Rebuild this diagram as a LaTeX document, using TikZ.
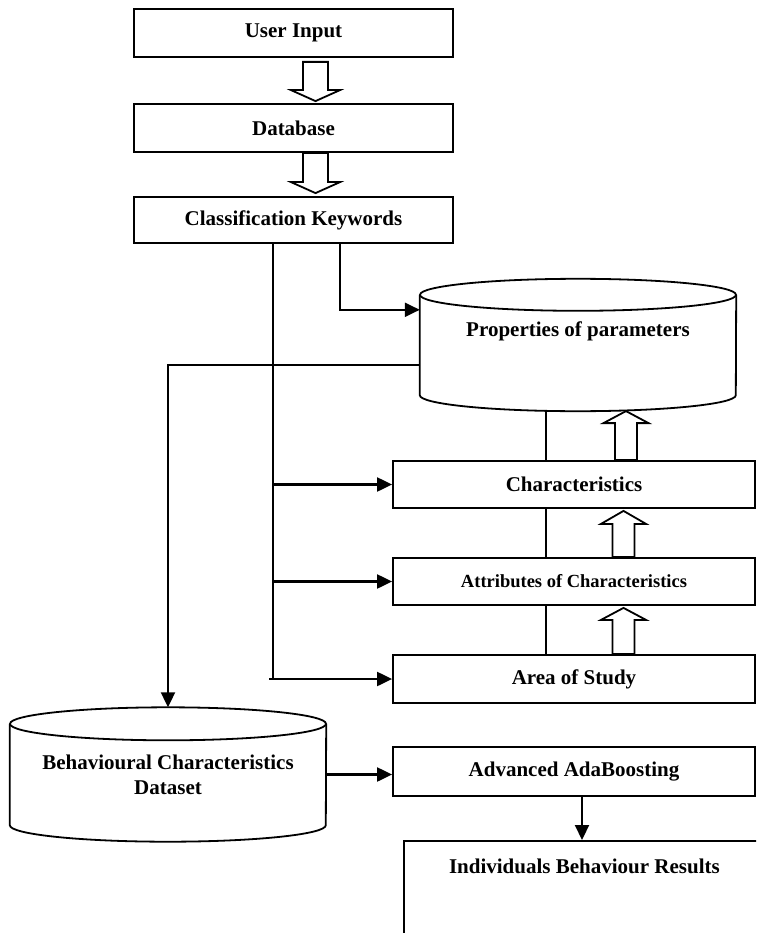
\documentclass[tikz,border=0pt]{standalone}
\usepackage{fontspec}
\setmainfont{Liberation Serif}
\usetikzlibrary{arrows.meta,calc}
\newcommand{\blockarrow}[5]{%
  \draw[hollow] ($(#1)+(-#3,0)$) -- ($(#2)+(-#3,#5)$) -- ($(#2)+(-#4,#5)$) -- (#2)
    -- ($(#2)+(#4,#5)$) -- ($(#2)+(#3,#5)$) -- ($(#1)+(#3,0)$) -- cycle;}
\newcommand{\cylout}[3]{%
  \draw[cyl] (#1.north) ellipse [x radius=#2, y radius=#3];
  \draw[cyl] (#1.north west) -- (#1.south west)
    arc[start angle=180, end angle=360, x radius=#2, y radius=#3] -- (#1.north east);}
\begin{document}
\begin{tikzpicture}[x=1pt,y=1pt,
  box/.style={draw, line width=1.8pt, fill=white, inner sep=0pt,
    minimum height=48pt, font=\fontsize{21}{25}\selectfont\bfseries},
  topbox/.style={box, minimum width=319pt},
  rbox/.style={box, minimum width=362pt},
  cylbody/.style={inner sep=0pt, minimum width=316pt, minimum height=100pt,
    align=center, font=\fontsize{21}{25}\selectfont\bfseries},
  lbl/.style={inner sep=0pt, font=\fontsize{21}{25}\selectfont\bfseries},
  cyl/.style={line width=1.8pt},
  hollow/.style={line width=1.8pt, fill=white, line join=miter},
  conn/.style={line width=2.1pt, -{Triangle[length=15pt,width=14pt]}},
  thinline/.style={line width=1.1pt}
]
\useasboundingbox (0,0) rectangle (756,-933);
\clip (0,0) rectangle (756,-933);

% top boxes
\node[topbox] (user) at (293.5,-33) {User Input};
\node[topbox] (db) at (293.5,-128) {Database};
\node[topbox, minimum height=46pt] (cls) at (293.5,-220) {Classification Keywords};

% right boxes
\node[rbox, minimum height=47pt] (char) at (574,-484.5) {Characteristics};
\node[rbox, minimum height=47pt, font=\fontsize{18.5}{22}\selectfont\bfseries] (attr) at (574,-581.5) {Attributes of Characteristics};
\node[rbox] (area) at (574,-679) {Area of Study};
\node[rbox, minimum height=49pt] (ada) at (574,-771.5) {Advanced AdaBoosting};
\node[box, anchor=north west, minimum width=367pt, minimum height=130pt,
  label={[lbl, anchor=north, yshift=-19pt, xshift=-3pt]north:Individuals Behaviour Results}] (res) at (403,-840) {};

% cylinders
\node[cylbody, minimum height=100pt, label={[lbl, yshift=14pt]center:Properties of parameters}] (props) at (578,-345) {};
\cylout{props}{158}{16}
\node[cylbody, minimum height=101pt] (beh) at (168,-774.5) {Behavioural Characteristics\\Dataset};
\cylout{beh}{158}{16.5}

% hollow arrows down
\coordinate (d1a) at ($(user.south)+(22,-4)$);
\coordinate (d1b) at ($(db.north)+(22,2)$);
\blockarrow{d1a}{d1b}{12.5}{24.5}{11}
\coordinate (d2a) at ($(db.south)+(22,0)$);
\coordinate (d2b) at ($(cls.north)+(22,3)$);
\blockarrow{d2a}{d2b}{12.5}{24.5}{11}

% hollow arrows up
\coordinate (u1a) at ($(char.north)+(52,0)$);
\coordinate (u1b) at ($(char.north)+(52,49)$);
\blockarrow{u1a}{u1b}{11}{22.5}{-12}
\coordinate (u2a) at ($(attr.north)+(49.5,0)$);
\coordinate (u2b) at ($(char.south)+(49.5,-2)$);
\blockarrow{u2a}{u2b}{11}{22.5}{-13}
\coordinate (u3a) at ($(area.north)+(49.5,0)$);
\coordinate (u3b) at ($(attr.south)+(49.5,-2)$);
\blockarrow{u3a}{u3b}{11}{22.5}{-12}

% thin vertical line through right column
\coordinate (pbot) at ($(char.north)+(-28,50.3)$);
\draw[thinline] (pbot) -- ($(char.north)+(-28,0)$);
\draw[thinline] ($(char.south)+(-28,0)$) -- ($(attr.north)+(-28,0)$);
\draw[thinline] ($(attr.south)+(-28,0)$) -- ($(area.north)+(-28,0)$);

% classification -> properties
\coordinate (clsr) at ($(cls.south)+(46.5,0)$);
\draw[conn] (clsr) |- ($(props.north west)+(0,-15)$);

% classification trunk
\coordinate (trunk) at ($(cls.south)+(-20.5,0)$);
\draw[thinline] (trunk) -- (trunk |- area.west);
\draw[conn] ($(trunk |- char.west)+(-1,0)$) -- (char.west);
\draw[conn] ($(trunk |- attr.west)+(-1,0)$) -- (attr.west);
\draw[conn] ($(trunk |- area.west)+(-4,0)$) -- (area.west);

% properties -> behavioural dataset
\draw[conn] ($(props.west)+(0,-20)$) -| ($(beh.north)+(0,16.5)$);

% behavioural -> adaboost
\draw[conn] (beh.east) -- (beh.east -| ada.west);

% adaboost -> results
\coordinate (adaout) at ($(ada.south)+(8,0)$);
\draw[conn] (adaout) -- (adaout |- res.north);
\end{tikzpicture}
\end{document}
